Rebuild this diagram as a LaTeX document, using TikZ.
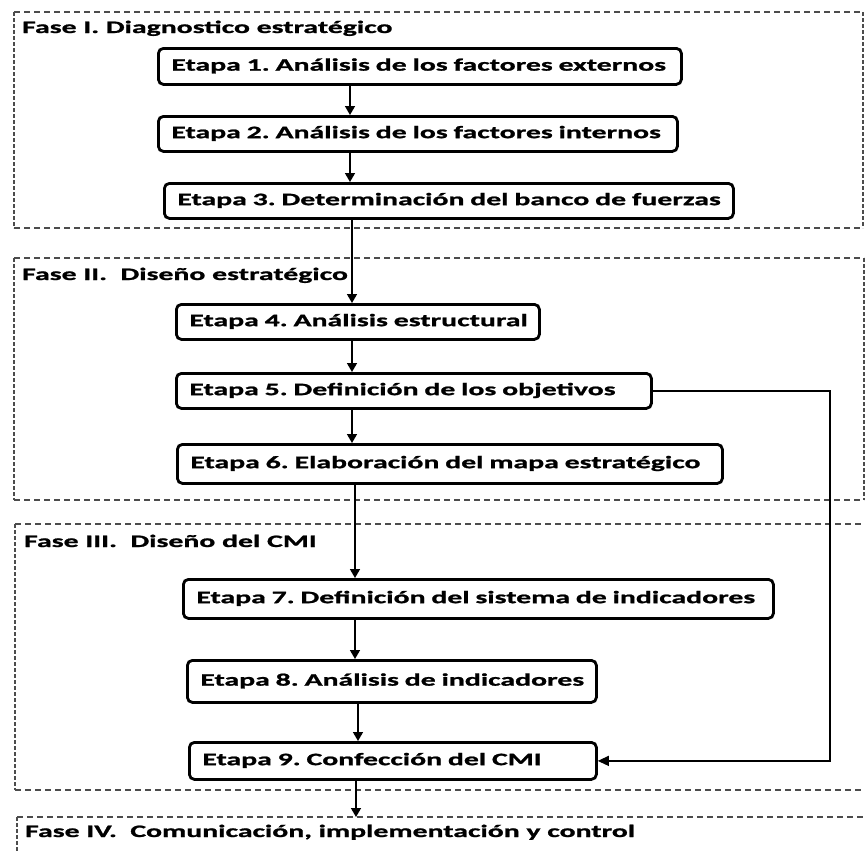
\documentclass[tikz,border=0pt]{standalone}
\usepackage{fontspec}
\setmainfont{Carlito}[FakeStretch=1.7, BoldFeatures={FakeBold=1.2}]
\usetikzlibrary{arrows.meta}
\frenchspacing

\begin{document}
\begin{tikzpicture}[x=1pt,y=-1pt,
  etapa/.style={draw, line width=2.8pt, rounded corners=5pt, anchor=north west,
    inner xsep=13pt, inner ysep=0pt, align=left, text height=11pt, text depth=2.5pt,
    font=\fontsize{17.5}{20}\selectfont\bfseries,
    execute at begin node=\hbox\bgroup, execute at end node=\egroup},
  fase/.style={anchor=base west, inner sep=0pt, font=\fontsize{17.5}{20}\selectfont\bfseries},
  marcoh/.style={draw=black!70, line width=1.4pt, dash pattern=on 6pt off 4pt},
  marcov/.style={draw=black!70, line width=1.4pt, dash pattern=on 3.5pt off 2.5pt},
  flecha/.style={line width=1.5pt, -{Triangle[length=9pt,width=10pt]}},
  retro/.style={line width=1.3pt, -{Triangle[length=11pt,width=10pt]}}]

\useasboundingbox (0,0) rectangle (865,852);
\clip (0,0) rectangle (865,852);

% fases
\draw[marcoh] (14,12) -- (863,12) (14,228) -- (863,228);
\draw[marcov] (14,12) -- (14,228) (863,12) -- (863,228);
\draw[marcoh] (14,258) -- (864,258) (14,500) -- (864,500);
\draw[marcov] (14,258) -- (14,500) (864,258) -- (864,500);
\draw[marcoh] (15,524) -- (880,524) (15,790) -- (880,790);
\draw[marcov] (15,524) -- (15,790);
\draw[marcoh] (17,817) -- (880,817);
\draw[marcov] (17,817) -- (17,880);

\node[fase] (f1) at (22,33) {Fase I. Diagnostico estratégico};
\node[fase] (f2) at (22,280) {Fase II.\ \ Diseño estratégico};
\node[fase] (f3) at (24,547) {Fase III.\ \ Diseño del CMI};
\node[fase] (f4) at (25,837) {Fase IV.\ \ Comunicación, implementación y control};

% etapas
\node[etapa, text width=497pt, minimum height=36pt] (e1) at (157,47) {Etapa 1. Análisis de los factores externos};
\node[etapa, text width=493pt, minimum height=35pt] (e2) at (157,115) {Etapa 2. Análisis de los factores internos};
\node[etapa, text width=543pt, minimum height=35pt] (e3) at (163,182) {Etapa 3. Determinación del banco de fuerzas};
\node[etapa, text width=337pt, minimum height=35pt] (e4) at (175,303) {Etapa 4. Análisis estructural};
\node[etapa, text width=449pt, minimum height=35pt] (e5) at (175,372) {Etapa 5. Definición de los objetivos};
\node[etapa, text width=519pt, minimum height=39pt] (e6) at (176,443) {Etapa 6. Elaboración del mapa estratégico};
\node[etapa, text width=564pt, minimum height=39pt] (e7) at (182,578) {Etapa 7. Definición del sistema de indicadores};
\node[etapa, text width=383pt, minimum height=42pt] (e8) at (186,659) {Etapa 8. Análisis de indicadores};
\node[etapa, text width=381pt, minimum height=37pt] (e9) at (188,741) {Etapa 9. Confección del CMI};

\coordinate (ca) at (350,0);
\coordinate (cb) at (352,0);
\coordinate (cc) at (355,0);
\coordinate (cd) at (358,0);
\coordinate (cr) at (830,0);
\coordinate (fin) at (356,817);

% flechas
\draw[flecha] (e1.south -| ca) -- (e2.north -| ca);
\draw[flecha] (e2.south -| ca) -- (e3.north -| ca);
\draw[flecha] (e3.south -| cb) -- (e4.north -| cb);
\draw[flecha] (e4.south -| cb) -- (e5.north -| cb);
\draw[flecha] (e5.south -| cb) -- (e6.north -| cb);
\draw[flecha] (e6.south -| cc) -- (e7.north -| cc);
\draw[flecha] (e7.south -| cc) -- (e8.north -| cc);
\draw[flecha] (e8.south -| cd) -- (e9.north -| cd);
\draw[flecha] (e9.south -| fin) -- (fin);
\draw[retro] (e5.east) -- (e5.east -| cr) -- (e9.east -| cr) -- (e9.east);

\end{tikzpicture}
\end{document}
